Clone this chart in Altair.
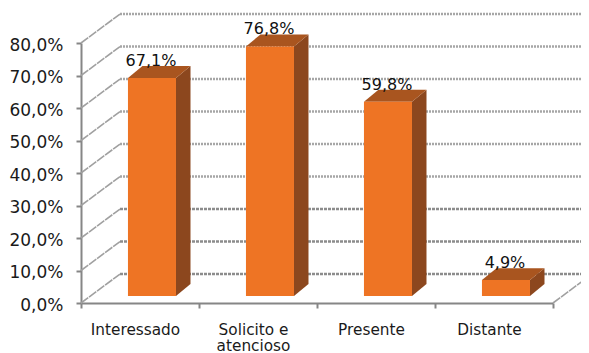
import altair as alt
import pandas as pd

# --- values ---
categories = ["Interessado", "Solicito e atencioso", "Presente", "Distante"]
values = [67.1, 76.8, 59.8, 4.9]
labels = ["67,1%", "76,8%", "59,8%", "4,9%"]
grid_values = [0, 10, 20, 30, 40, 50, 60, 70, 80]
dark_grid_values = [0, 10, 20]

# --- oblique projection constants (category units / percent units) ---
WALL_DX, WALL_DY = 39 / 118, 8.9       # depth of the chart box
BAR_X0, BAR_W = 0.398, 0.407           # front face inside a category
BAR_BASE = 2.15                        # front face floor lift
BAR_DX, BAR_DY = 14.5 / 118, 3.68      # depth of a bar
X_END = 4.305

FRONT, SIDE, TOP = "#EE7424", "#8C471E", "#A9551F"
AXIS = "#868686"
FONT = "DejaVu Sans"

x_q = alt.Scale(domain=[0, 4], nice=False, zero=False)
y_q = alt.Scale(domain=[0, 80], nice=False, zero=False)

grid_light = pd.DataFrame([
    {"x": WALL_DX, "x2": X_END, "y": v + WALL_DY}
    for v in grid_values if v not in dark_grid_values])
grid_dark = pd.DataFrame([
    {"x": WALL_DX, "x2": X_END, "y": v + WALL_DY}
    for v in dark_grid_values])
diag = pd.DataFrame(
    [{"g": v, "x": 0, "y": v} for v in grid_values] +
    [{"g": v, "x": WALL_DX, "y": v + WALL_DY} for v in grid_values] +
    [{"g": -1, "x": 4, "y": 0}, {"g": -1, "x": 4 + WALL_DX, "y": WALL_DY}]
)

y_axis = alt.Axis(
    values=grid_values, labelFont=FONT, labelFontSize=17, labelColor="#1a1a1a",
    labelPadding=13, labelOffset=2, tickSize=5, tickWidth=2, tickColor=AXIS,
    domainColor=AXIS, domainWidth=2, grid=False, title=None,
    labelExpr="replace(format(datum.value, '.1f'), '.', ',') + '%'",
)

X = lambda: alt.X("x:Q", scale=x_q, axis=None)
Y = lambda: alt.Y("y:Q", scale=y_q, axis=y_axis)

face_layers = []
front_rows, text_rows = [], []
for i, (c, v, l) in enumerate(zip(categories, values, labels)):
    x0 = i + BAR_X0
    x1 = x0 + BAR_W
    low = BAR_BASE
    high = v + BAR_BASE
    front_rows.append({"x": x0, "x2": x1, "y": low, "y2": high})
    side = pd.DataFrame([
        {"x": x1, "y": low, "yb": high},
        {"x": x1 + BAR_DX, "y": low + BAR_DY, "yb": high + BAR_DY},
    ])
    top = pd.DataFrame([
        {"x": x0, "y": high, "yb": high},
        {"x": x0 + BAR_DX, "y": high, "yb": high + BAR_DY},
        {"x": x1, "y": high, "yb": high + BAR_DY},
        {"x": x1 + BAR_DX, "y": high + BAR_DY, "yb": high + BAR_DY},
    ])
    face_layers.append(alt.Chart(side).mark_area(color=SIDE, orient="vertical").encode(
        X(), Y(), y2="yb:Q"))
    face_layers.append(alt.Chart(top).mark_area(color=TOP, orient="vertical").encode(
        X(), Y(), y2="yb:Q"))
    text_rows.append({"c": c, "t": l, "y": high})

front = pd.DataFrame(front_rows)
texts = pd.DataFrame(text_rows)

light_layer = alt.Chart(grid_light).mark_rule(
    stroke="#A6A6A6", strokeWidth=2.5, strokeDash=[2, 1]
).encode(X(), x2="x2:Q", y=Y())
dark_layer = alt.Chart(grid_dark).mark_rule(
    stroke="#8C8C8C", strokeWidth=2.5, strokeDash=[3, 1]
).encode(X(), x2="x2:Q", y=Y())

diag_layer = alt.Chart(diag).mark_line(
    stroke="#A0A0A0", strokeWidth=1.6, strokeDash=[9, 1]
).encode(X(), Y(), detail="g:N", order="x:Q")

front_layer = alt.Chart(front).mark_rect(color=FRONT).encode(
    X(), x2="x2:Q", y=Y(), y2="y2:Q")

band_x = alt.X(
    "c:N", sort=categories, title=None,
    scale=alt.Scale(paddingInner=0, paddingOuter=0),
    axis=alt.Axis(
        tickBand="extent", labelAngle=0, labelFont=FONT, labelFontSize=15.3,
        labelColor="#1a1a1a", labelPadding=14, labelOffset=-5, labelLimit=200,
        labelLineHeight=16.5, labelBaseline="top",
        labelExpr="datum.label == 'Solicito e atencioso' ? ['Solicito e', 'atencioso'] : datum.label",
        tickColor=AXIS, tickWidth=2, tickSize=5, domainColor=AXIS, domainWidth=2,
        grid=False,
    ),
)

text_layer = alt.Chart(texts).mark_text(
    font=FONT, fontSize=16, color="#111111", baseline="alphabetic", align="center",
    dx=11, dy=-12,
).encode(x=band_x, y=Y(), text="t:N")

chart = alt.layer(
    light_layer, dark_layer, diag_layer, *face_layers, front_layer, text_layer
).resolve_scale(x="independent").resolve_axis(x="independent").properties(
    width=472, height=260,
    autosize="none",
    padding={"left": 73, "top": 35, "right": 28, "bottom": 50},
    background="white",
).configure_view(stroke=None)

chart.save("out.html", embed_options={"renderer": "svg", "actions": False})
